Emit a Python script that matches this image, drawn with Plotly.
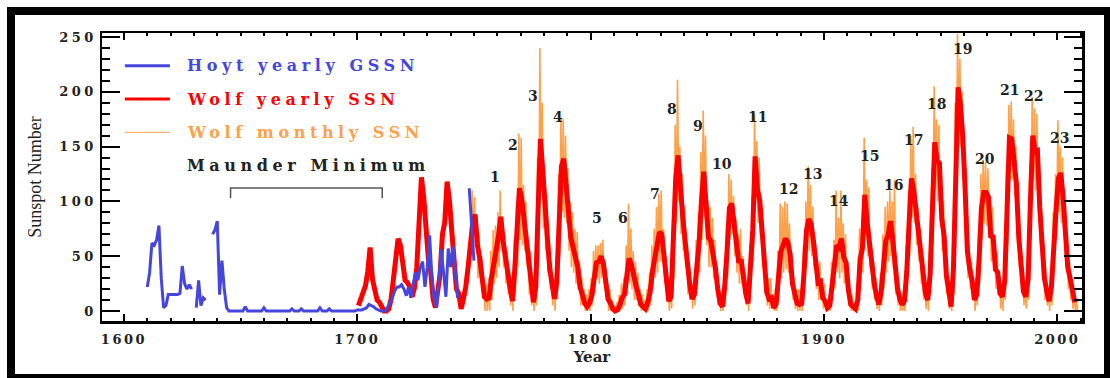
import plotly.graph_objects as go

# ---------------- data ----------------
hoyt_years = list(range(1610, 1751))
hoyt_gssn = [
    22, 35, 62, 60, 65, 78, 30, 3, 5, 15,            # 1610s
    15, 15, 15, 15, 16, 41, 25, 20, 24, 20,          # 1620s
    None, 3, 28, 5, 12, 10, None, None, 70, 74,      # 1630s
    82, 15, 46, 20, 3, 0, 0, 0, 0, 0,                # 1640s
    0, 0, 4, 0, 0, 0, 0, 0, 0, 0,                    # 1650s
    3, 0, 0, 0, 0, 0, 0, 0, 0, 0,                    # 1660s
    0, 0, 2, 0, 0, 0, 2, 0, 0, 0,                    # 1670s
    0, 0, 0, 0, 3, 0, 0, 0, 2, 0,                    # 1680s
    0, 0, 0, 0, 0, 0, 0, 0, 0, 0,                    # 1690s
    1, 1, 1, 2, 3, 6, 5, 4, 2, 1,                    # 1700s
    0, 0, 0, 3, 7, 12, 18, 22, 22, 24,               # 1710s
    20, 14, 22, 12, 25, 35, 28, 40, 45, 22,          # 1720s
    40, 69, 30, 10, 3, 30, 56, 35, 13, 57,           # 1730s
    40, 59, 35, 12, None, None, None, None, 112, 75, # 1740s
    46,                                              # 1750
]

wolf_years = list(range(1700, 2008))
wolf_ssn = [
    5, 11, 16, 23, 36, 58, 29, 20, 10, 8,            # 1700s
    3, 0, 0, 2, 11, 27, 47, 66, 60, 39,              # 1710s
    28, 26, 22, 13, 21, 40, 78, 122, 103, 73,        # 1720s
    47, 35, 11, 3, 16, 34, 70, 81, 118, 101,         # 1730s
    73, 40, 20, 16, 2, 11, 22, 40, 60, 81,           # 1740s
    88, 60, 48, 30, 13, 11, 12, 30, 47, 55,          # 1750s
    68, 86, 64, 46, 35, 21, 9, 38, 70, 112,          # 1760s
    102, 82, 64, 37, 27, 8, 22, 92, 157, 128,        # 1770s
    86, 66, 38, 22, 11, 26, 84, 132, 139, 118,       # 1780s
    90, 67, 58, 47, 40, 22, 15, 7, 4, 7,             # 1790s
    14, 33, 44, 45, 50, 43, 28, 11, 7, 2,            # 1800s
    0, 1, 5, 12, 15, 35, 48, 42, 30, 23,             # 1810s
    15, 6, 4, 2, 8, 17, 36, 50, 64, 72,              # 1820s
    70, 47, 27, 9, 13, 58, 122, 142, 104, 86,        # 1830s
    64, 37, 24, 11, 15, 40, 62, 100, 127, 97,        # 1840s
    67, 64, 54, 39, 20, 7, 4, 23, 55, 94,            # 1850s
    98, 77, 59, 44, 47, 30, 16, 7, 38, 74,           # 1860s
    141, 111, 101, 66, 45, 17, 11, 12, 3, 6,         # 1870s
    32, 54, 60, 66, 63, 52, 25, 13, 7, 6,            # 1880s
    7, 36, 73, 84, 79, 64, 42, 26, 27, 12,           # 1890s
    9, 3, 5, 24, 42, 60, 58, 66, 49, 44,             # 1900s
    19, 6, 4, 2, 10, 47, 57, 106, 81, 64,            # 1910s
    38, 26, 14, 6, 17, 44, 64, 69, 82, 65,           # 1920s
    36, 21, 11, 6, 9, 36, 80, 121, 110, 89,          # 1930s
    68, 48, 31, 16, 10, 33, 93, 154, 137, 135,       # 1940s
    84, 69, 32, 14, 4, 38, 142, 204, 188, 159,       # 1950s
    112, 54, 38, 28, 10, 15, 47, 94, 108, 108,       # 1960s
    104, 67, 69, 38, 35, 16, 13, 28, 93, 158,        # 1970s
    157, 140, 116, 67, 46, 18, 13, 29, 100, 160,     # 1980s
    145, 146, 94, 55, 30, 18, 9, 22, 64, 93,         # 1990s
    121, 126, 104, 64, 40, 30, 15, 8,                # 2000s
]

monthly_years = list(range(1749, 2009))
monthly_max = [
    110, 104, 86, 70, 50, 30, 25, 30, 55, 74,        # 1749-1758
    78, 90, 110, 85, 70, 55, 38, 30, 65, 100,        # 1759-1768
    162, 158, 115, 100, 60, 55, 25, 50, 140, 240,    # 1769-1778
    190, 130, 105, 65, 45, 30, 50, 125, 176, 175,    # 1779-1788
    160, 130, 100, 90, 75, 72, 45, 30, 20, 15,       # 1789-1798
    20, 30, 55, 60, 60, 62, 65, 45, 25, 20,          # 1799-1808
    10, 5, 8, 15, 25, 30, 60, 98, 75, 55,            # 1809-1818
    45, 35, 20, 15, 10, 20, 35, 60, 75, 95,          # 1819-1828
    107, 110, 75, 50, 20, 30, 90, 170, 211, 150,     # 1829-1838
    125, 95, 60, 45, 25, 30, 65, 90, 145, 183,       # 1839-1848
    160, 100, 95, 85, 65, 40, 20, 15, 40, 80,        # 1849-1858
    125, 120, 105, 85, 70, 75, 50, 35, 20, 60,       # 1859-1868
    105, 180, 155, 140, 95, 70, 35, 30, 30, 15,      # 1869-1878
    20, 55, 98, 95, 100, 98, 80, 45, 30, 20,         # 1879-1888
    20, 20, 60, 100, 132, 115, 95, 65, 45, 45,       # 1889-1898
    30, 25, 10, 15, 45, 65, 110, 85, 110, 80,        # 1899-1908
    70, 40, 20, 15, 8, 25, 75, 85, 158, 120,         # 1909-1918
    113, 60, 45, 30, 15, 35, 70, 95, 100, 110,       # 1919-1928
    100, 120, 40, 25, 15, 20, 60, 110, 160, 168,     # 1929-1938
    125, 95, 75, 50, 30, 25, 55, 130, 205, 175,      # 1939-1948
    170, 115, 100, 50, 30, 15, 65, 190, 253, 230,    # 1949-1958
    200, 150, 80, 60, 45, 25, 30, 70, 125, 138,      # 1959-1968
    136, 130, 95, 95, 60, 55, 30, 25, 45, 130,       # 1969-1978
    188, 191, 175, 150, 95, 70, 30, 25, 45, 135,     # 1979-1988
    195, 185, 180, 130, 80, 50, 30, 20, 38, 90,      # 1989-1998
    125, 174, 150, 140, 90, 60, 45, 25, 15, 10,      # 1999-2008
]
monthly_min = [
    55, 60, 30, 30, 15, 0, 0, 0, 10, 25,             # 1749-1758
    30, 40, 55, 40, 25, 15, 5, 0, 15, 40,            # 1759-1768
    65, 60, 55, 40, 15, 5, 0, 5, 45, 110,            # 1769-1778
    75, 55, 35, 20, 5, 0, 10, 50, 90, 85,            # 1779-1788
    80, 55, 40, 35, 25, 20, 5, 5, 0, 0,              # 1789-1798
    0, 5, 15, 30, 25, 30, 25, 10, 0, 0,              # 1799-1808
    0, 0, 0, 0, 2, 5, 15, 25, 20, 10,                # 1809-1818
    10, 5, 0, 0, 0, 0, 5, 20, 30, 35,                # 1819-1828
    45, 45, 25, 10, 0, 2, 30, 80, 100, 70,           # 1829-1838
    55, 40, 15, 10, 2, 5, 20, 35, 65, 85,            # 1839-1848
    60, 40, 40, 30, 20, 5, 0, 0, 5, 30,              # 1849-1858
    65, 70, 50, 35, 25, 25, 15, 5, 0, 20,            # 1859-1868
    45, 100, 80, 70, 40, 25, 5, 2, 2, 0,             # 1869-1878
    0, 12, 30, 35, 38, 35, 30, 10, 2, 0,             # 1879-1888
    0, 0, 15, 45, 55, 50, 40, 20, 10, 10,            # 1889-1898
    2, 0, 0, 0, 10, 20, 35, 30, 35, 25,              # 1899-1908
    20, 5, 0, 0, 0, 0, 25, 35, 70, 50,               # 1909-1918
    40, 20, 10, 2, 0, 5, 20, 35, 45, 50,             # 1919-1928
    40, 15, 5, 0, 0, 0, 15, 50, 85, 80,              # 1929-1938
    60, 45, 25, 10, 2, 0, 15, 60, 110, 100,          # 1939-1948
    95, 55, 45, 15, 2, 0, 15, 95, 150, 150,          # 1949-1958
    120, 80, 30, 20, 10, 0, 5, 25, 65, 80,           # 1959-1968
    78, 75, 45, 45, 20, 15, 2, 0, 10, 60,            # 1969-1978
    120, 120, 105, 80, 40, 25, 5, 2, 10, 65,         # 1979-1988
    120, 110, 110, 60, 30, 10, 5, 0, 5, 40,          # 1989-1998
    65, 90, 80, 75, 40, 20, 10, 2, 0, 0,             # 1999-2008
]

cycle_labels = [str(i) for i in range(1, 24)]
cycle_label_x = [1759.0, 1766.8, 1775.4, 1785.9, 1802.6, 1814.0, 1827.6, 1834.7,
                 1845.9, 1856.4, 1871.4, 1885.0, 1895.2, 1906.6, 1919.7, 1929.7,
                 1938.3, 1948.3, 1959.3, 1969.0, 1979.7, 1990.0, 2000.9]
cycle_label_y = [122, 151, 196, 177, 85, 85, 107, 184, 169, 134, 177, 111, 125,
                 100, 141, 115, 156, 189, 239, 139, 202, 196, 158]

legend_names = ["Hoyt yearly GSSN", "Wolf yearly SSN", "Wolf monthly SSN"]
maunder_text = "Maunder Minimum"
maunder_span = [1645.7, 1710.7]

# ---------------- styles ----------------
BLUE = "#4646dc"
RED = "#ff0000"
ORANGE = "#ffa04a"
SERIF = "DejaVu Serif"

fig = go.Figure()

# monthly SSN drawn as a min/max zig-zag for each year
ox, oy = [], []
for yr, hi, lo in zip(monthly_years, monthly_max, monthly_min):
    ox += [yr + 0.25, yr + 0.75]
    oy += [hi, lo]
fig.add_trace(go.Scatter(x=ox, y=oy, mode="lines",
                         line=dict(color=ORANGE, width=1.6),
                         name=legend_names[2], showlegend=False, hoverinfo="skip"))

fig.add_trace(go.Scatter(x=[y + 0.5 for y in wolf_years], y=wolf_ssn, mode="lines",
                         line=dict(color=RED, width=5),
                         name=legend_names[1], showlegend=False))

fig.add_trace(go.Scatter(x=hoyt_years, y=hoyt_gssn, mode="lines",
                         line=dict(color=BLUE, width=3), connectgaps=False,
                         name=legend_names[0], showlegend=False))

# hand-drawn style legend (inside the plot area)
leg_rows_y = [223.8, 193.4, 163.0]
leg_colors = [BLUE, RED, ORANGE]
leg_widths = [3, 3, 1]
for name, yv, col, lw in zip(legend_names, leg_rows_y, leg_colors, leg_widths):
    fig.add_shape(type="line", xref="x", yref="y", x0=1600.4, x1=1619.7, y0=yv, y1=yv,
                  line=dict(color=col, width=lw))
    fig.add_annotation(x=1626.1, y=yv, xref="x", yref="y", text=name, showarrow=False,
                       xanchor="left", yanchor="middle", align="left",
                       font=dict(family=SERIF, size=16, color=col, weight="bold"))

# Maunder Minimum bracket
fig.add_annotation(x=1626.1, y=132.3, xref="x", yref="y", text=maunder_text,
                   showarrow=False, xanchor="left", yanchor="middle", align="left",
                   font=dict(family=SERIF, size=16, color="#222222", weight="bold"))
fig.add_shape(type="path", xref="x", yref="y",
              path=f"M {maunder_span[0]},102.8 L {maunder_span[0]},112.2 "
                   f"L {maunder_span[1]},112.2 L {maunder_span[1]},102.8",
              line=dict(color="#555555", width=1.5))

# cycle numbers
for t, xv, yv in zip(cycle_labels, cycle_label_x, cycle_label_y):
    fig.add_annotation(x=xv, y=yv, xref="x", yref="y", text=t, showarrow=False,
                       xanchor="center", yanchor="middle",
                       font=dict(family=SERIF, size=14, color="#222222", weight="bold"))

# outer black frame (paper coords; plot area is x 102..1082, y 33..321 px)
def px2paper_x(px):
    return (px - 102) / 980.0

def px2paper_y(py):
    return (321 - py) / 288.0

frame_rects = [(7, 7, 1108, 15), (7, 7, 15, 378), (1104, 7, 1110, 378), (7, 374, 1110, 378)]
for x0, y0, x1, y1 in frame_rects:
    fig.add_shape(type="rect", xref="paper", yref="paper",
                  x0=px2paper_x(x0), x1=px2paper_x(x1),
                  y0=px2paper_y(y1), y1=px2paper_y(y0),
                  line=dict(width=0), fillcolor="black", layer="above")

axis_font = dict(family=SERIF, size=13, color="#222222", weight="bold")
fig.update_layout(
    width=1110, height=378,
    margin=dict(l=102, r=28, t=33, b=57),
    paper_bgcolor="white", plot_bgcolor="white",
    showlegend=False,
    xaxis=dict(range=[1590.6, 2010.6], tickmode="linear", tick0=1600, dtick=100,
               ticks="inside", ticklen=7, tickwidth=2, tickcolor="black",
               minor=dict(dtick=10, tick0=1600, ticks="inside", ticklen=3, tickwidth=2,
                          tickcolor="black", showgrid=False),
               showline=True, linecolor="black", linewidth=2.5, mirror="allticks",
               showgrid=False, zeroline=False, tickfont=axis_font, ticklabelstandoff=5,
               title=dict(text="Year", font=dict(family=SERIF, size=15, color="#222222",
                                                 weight="bold"), standoff=6)),
    yaxis=dict(range=[-9.1, 253.6], tickmode="linear", tick0=0, dtick=50,
               ticks="inside", ticklen=18, tickwidth=2, tickcolor="black",
               minor=dict(dtick=10, tick0=0, ticks="inside", ticklen=8, tickwidth=2,
                          tickcolor="black", showgrid=False),
               showline=True, linecolor="black", linewidth=2.5, mirror="allticks",
               showgrid=False, zeroline=False, tickfont=axis_font,
               title=dict(text="Sunspot Number",
                          font=dict(family="Liberation Serif", size=18, color="#222222"),
                          standoff=24)),
)

post_js = """
document.body.style.margin = '0';
document.body.style.padding = '0';
document.body.style.overflow = 'hidden';
var gd = document.getElementById('{plot_id}');
function spaceOut(){
  gd.querySelectorAll('.annotation-text').forEach(function(t){
    var s = t.textContent;
    if (s.length > 3) { t.style.letterSpacing = '4.6px'; }
  });
  gd.querySelectorAll('.xtick text').forEach(function(t){
    t.style.letterSpacing = '2.5px';
  });
  gd.querySelectorAll('.ytick text').forEach(function(t){
    t.style.letterSpacing = '3.5px';
  });
}
spaceOut();
gd.on('plotly_afterplot', spaceOut);
"""

fig.write_html("out.html", post_script=post_js,
               config={"displayModeBar": False, "staticPlot": True})
